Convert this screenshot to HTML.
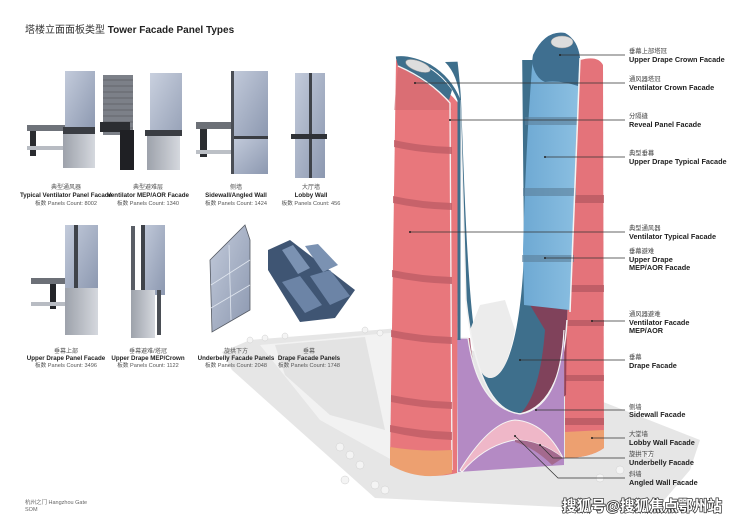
<!DOCTYPE html>
<html><head><meta charset="utf-8"><style>
html,body{margin:0;padding:0;background:#fff;}
svg{display:block;}
text{font-family:"Liberation Sans","Noto Sans CJK SC",sans-serif;}
.cn{font-size:6px;fill:#555;}
.en{font-size:6.2px;font-weight:bold;fill:#222;}
.ct{font-size:5.6px;fill:#555;}
.lc{font-size:6.3px;fill:#444;}
.le{font-size:7.3px;font-weight:bold;fill:#222;}
.ld{stroke:#333;stroke-width:0.7;fill:none;}
</style></head><body>
<svg width="740" height="523" viewBox="0 0 740 523" xmlns="http://www.w3.org/2000/svg">
<defs>
<linearGradient id="gl" x1="0" y1="0" x2="1" y2="1"><stop offset="0" stop-color="#c3cbdb"/><stop offset="1" stop-color="#8c98b0"/></linearGradient>
<linearGradient id="mt" x1="0" y1="0" x2="1" y2="0"><stop offset="0" stop-color="#9da2ab"/><stop offset="1" stop-color="#d5d8de"/></linearGradient>
<linearGradient id="bl" x1="0" y1="0" x2="1" y2="0"><stop offset="0" stop-color="#6ea9d3"/><stop offset="1" stop-color="#8cc0e2"/></linearGradient>
</defs>

<text x="25" y="33" style="font-size:10px;fill:#333">塔楼立面面板类型 <tspan style="font-weight:bold;fill:#222">Tower Facade Panel Types</tspan></text>

<!-- Row 1 panels -->
<g>
<rect x="27" y="125" width="40" height="6" fill="#6f737a"/><rect x="30" y="131" width="6" height="25" fill="#2a2c30"/><rect x="27" y="146" width="40" height="4" fill="#b8bcc3"/>
<rect x="65" y="71" width="30" height="60" fill="url(#gl)"/>
<rect x="63" y="127" width="32" height="7" fill="#3a3d43"/>
<rect x="63" y="134" width="32" height="34" fill="url(#mt)"/>
<rect x="103" y="75" width="30" height="60" fill="#7c8088"/>
<g stroke="#4a4d53" stroke-width="0.6"><line x1="103" y1="80" x2="133" y2="80"/><line x1="103" y1="86" x2="133" y2="86"/><line x1="103" y1="92" x2="133" y2="92"/><line x1="103" y1="98" x2="133" y2="98"/><line x1="103" y1="104" x2="133" y2="104"/><line x1="103" y1="110" x2="133" y2="110"/><line x1="103" y1="116" x2="133" y2="116"/><line x1="103" y1="122" x2="133" y2="122"/><line x1="103" y1="128" x2="133" y2="128"/></g>
<rect x="100" y="122" width="30" height="10" fill="#2b2d31"/><rect x="120" y="130" width="14" height="40" fill="#1f2024"/>
<rect x="150" y="73" width="32" height="60" fill="url(#gl)" opacity="0.9"/>
<rect x="145" y="130" width="37" height="6" fill="#3a3d43"/>
<rect x="147" y="136" width="33" height="34" fill="url(#mt)"/>
<rect x="196" y="122" width="38" height="7" fill="#6c7077"/><rect x="200" y="129" width="7" height="28" fill="#2b2d31"/><rect x="196" y="150" width="38" height="4" fill="#bcc0c6"/>
<rect x="231" y="71" width="37" height="67" fill="url(#gl)"/><rect x="231" y="136" width="37" height="3" fill="#3a3d43"/>
<rect x="231" y="139" width="37" height="35" fill="url(#gl)"/><rect x="231" y="71" width="3" height="103" fill="#4a4e55"/>
<rect x="295" y="73" width="30" height="105" fill="url(#gl)"/><rect x="309" y="73" width="3" height="105" fill="#3f434a"/>
<rect x="291" y="134" width="36" height="5" fill="#2f3237"/>
</g>
<g text-anchor="middle">
<text class="cn" x="66" y="189">典型通风器</text><text class="en" x="66" y="197">Typical Ventilator Panel Facade</text><text class="ct" x="66" y="205">板数 Panels Count: 8002</text>
<text class="cn" x="148" y="189">典型避难层</text><text class="en" x="148" y="197">Ventilator MEP/AOR Facade</text><text class="ct" x="148" y="205">板数 Panels Count: 1340</text>
<text class="cn" x="236" y="189">侧墙</text><text class="en" x="236" y="197">Sidewall/Angled Wall</text><text class="ct" x="236" y="205">板数 Panels Count: 1424</text>
<text class="cn" x="311" y="189">大厅墙</text><text class="en" x="311" y="197">Lobby Wall</text><text class="ct" x="311" y="205">板数 Panels Count: 456</text>
</g>

<!-- Row 2 panels -->
<g>
<rect x="31" y="278" width="35" height="6" fill="#6c7077"/><rect x="50" y="284" width="6" height="25" fill="#232529"/><rect x="31" y="302" width="35" height="4" fill="#b8bcc3"/>
<rect x="65" y="225" width="33" height="65" fill="url(#gl)"/><rect x="74" y="225" width="4" height="110" fill="#3f434a"/>
<rect x="65" y="288" width="33" height="47" fill="url(#mt)"/>
<rect x="131" y="226" width="4" height="70" fill="#5a5e66"/><rect x="141" y="225" width="24" height="70" fill="url(#gl)"/><rect x="141" y="225" width="4" height="70" fill="#3f434a"/>
<rect x="131" y="290" width="24" height="48" fill="url(#mt)"/><rect x="157" y="290" width="4" height="45" fill="#4a4e55"/>
<polygon points="210,260 245,225 250,240 250,310 212,332" fill="url(#gl)" stroke="#555a63" stroke-width="0.8"/>
<g stroke="#e0e6ef" stroke-width="0.8"><line x1="211" y1="285" x2="250" y2="260"/><line x1="211" y1="308" x2="250" y2="285"/><line x1="229" y1="245" x2="231" y2="320"/></g>
<polygon points="268,250 290,240 355,290 335,318 300,322 268,270" fill="#3f5573"/>
<polygon points="282,250 293,245 310,268 298,274" fill="#7b92b2"/><polygon points="305,246 318,244 338,265 323,272" fill="#7b92b2"/>
<polygon points="282,282 300,276 322,305 305,313" fill="#6c84a6"/><polygon points="310,276 330,270 350,296 330,305" fill="#6c84a6"/>
</g>
<g text-anchor="middle">
<text class="cn" x="66" y="353">垂幕上部</text><text class="en" x="66" y="360">Upper Drape Panel Facade</text><text class="ct" x="66" y="367">板数 Panels Count: 3496</text>
<text class="cn" x="148" y="353">垂幕避难/塔冠</text><text class="en" x="148" y="360">Upper Drape MEP/Crown</text><text class="ct" x="148" y="367">板数 Panels Count: 1122</text>
</g>

<!-- site platform -->
<polygon points="222,352 250,340 400,328 420,330 700,440 690,470 660,505 580,508 375,498 232,370" fill="#e6e6e6"/>
<polygon points="260,345 400,332 410,470 320,420" fill="#f2f2f2"/>
<polygon points="275,345 365,337 385,430 330,415 285,375" fill="#d9d9d9" opacity="0.6"/>
<g fill="#f4f4f4" stroke="#cfcfcf" stroke-width="0.5">
<circle cx="340" cy="447" r="4"/><circle cx="350" cy="455" r="4"/><circle cx="360" cy="465" r="4"/><circle cx="345" cy="480" r="4"/><circle cx="375" cy="485" r="4"/><circle cx="385" cy="490" r="4"/><circle cx="620" cy="470" r="4"/><circle cx="650" cy="455" r="4"/><circle cx="600" cy="478" r="4"/><circle cx="250" cy="340" r="3"/><circle cx="265" cy="338" r="3"/><circle cx="285" cy="336" r="3"/><circle cx="365" cy="330" r="3"/><circle cx="380" cy="333" r="3"/>
</g>
<g text-anchor="middle">
<text class="cn" x="236" y="353">旋拱下方</text><text class="en" x="236" y="360">Underbelly Facade Panels</text><text class="ct" x="236" y="367">板数 Panels Count: 2048</text>
<text class="cn" x="309" y="353">垂幕</text><text class="en" x="309" y="360">Drape Facade Panels</text><text class="ct" x="309" y="367">板数 Panels Count: 1748</text>
</g>

<!-- right tower red back -->
<path d="M580,60 Q598,55 603,65 L604,448 Q590,458 565,458 L565,80 Z" fill="#e4737a"/>
<g fill="#b85a63" opacity="0.8"><rect x="575" y="195" width="29" height="8"/><rect x="568" y="285" width="36" height="7"/><rect x="566" y="320" width="38" height="6"/><rect x="565" y="375" width="39" height="6"/><rect x="565" y="418" width="39" height="7"/></g>
<path d="M565,432 L604,430 L604,448 Q590,458 565,458 Z" fill="#eda070"/>

<!-- dark blue U band -->
<path d="M445,62 Q458,75 460,100 L466,300 Q478,410 520,414 Q562,405 567,320 L575,60 L522,60 Z" fill="#3e6f8c"/>
<path d="M530,305 L567,310 L566,395 Q550,410 520,414 Q540,395 545,330 Z" fill="#8c3b52" opacity="0.85"/>
<path d="M458,338 L470,338 Q475,390 490,405 L460,420 Z" fill="#9b3e5a" opacity="0.8"/>
<!-- white hole -->
<path d="M461,100 C466,230 470,378 490,378 C510,378 522,320 524,250 L522,40 L455,40 Q460,80 461,100 Z" fill="#fff"/>
<path d="M470,330 C475,360 480,378 490,378 C503,378 510,355 515,330 L505,300 L480,305 Z" fill="#ececec"/>
<!-- blue tower -->
<path d="M533,55 Q545,30 565,33 Q578,40 580,58 L576,140 L570,310 L524,305 L523,250 Q526,140 533,55 Z" fill="url(#bl)"/>
<path d="M533,55 Q545,30 565,33 Q578,40 580,58 L578,86 Q560,80 545,82 Q535,78 532,62 Z" fill="#3f6f90"/>
<ellipse cx="562" cy="42" rx="11" ry="6" fill="#ddd" stroke="#999" stroke-width="0.5"/>
<g fill="#5b7f9a" opacity="0.6"><rect x="525" y="117" width="52" height="8"/><rect x="523" y="188" width="53" height="8"/><rect x="522" y="255" width="52" height="7"/></g>
<path d="M580,58 L570,312" stroke="#f4f4f4" stroke-width="1.5" fill="none"/>
<path d="M460,100 L466,300 Q478,410 520,414 Q562,405 567,320" stroke="#f2f2f2" stroke-width="1.5" fill="none"/>

<!-- purple lobby and pink arch -->
<path d="M457,338 L468,338 Q478,408 520,414 Q560,408 564,330 L564,465 L458,472 Z" fill="#b48ac4"/>
<path d="M457,338 L468,338 Q478,408 520,414 Q560,408 564,330" stroke="#f2f2f2" stroke-width="1.2" fill="none"/>
<path d="M460,470 Q490,422 515,420 Q545,422 563,458 Q540,440 515,440 Q485,445 462,472 Z" fill="#efb7c8" stroke="#f5f5f5" stroke-width="1"/>
<path d="M515,440 Q540,440 563,458 L552,465 Q535,448 515,442 Z" fill="#a46a8e"/>

<!-- left tower -->
<path d="M396,60 L390,462 Q420,482 457,473 L458,103 Q440,80 396,60 Z" fill="#e8777c"/>
<path d="M396,58 Q410,56 430,66 Q450,78 459,100 L459,340" stroke="#3e6f8c" stroke-width="3" fill="none"/>
<path d="M396,58 Q430,60 452,90 L449,100 Q425,80 398,66 Z" fill="#3e6f8c"/>
<ellipse cx="418" cy="66" rx="13" ry="5" fill="#ddd" stroke="#999" stroke-width="0.5" transform="rotate(20 418 66)"/>
<path d="M398,67 Q430,82 450,104 L452,110 L394,110 Z" fill="#c9636b" opacity="0.45"/>
<path d="M398,66 Q430,80 450,103 L452,470" stroke="#f4f4f4" stroke-width="1.3" fill="none"/>
<g fill="#c25f68" opacity="0.85">
<path d="M394,140 Q420,146 452,147 L452,154 Q420,153 394,147 Z"/>
<path d="M393,196 Q420,202 452,203 L452,210 Q420,209 393,203 Z"/>
<path d="M392,270 Q420,276 452,277 L452,284 Q420,283 392,277 Z"/>
<path d="M391,330 Q420,336 452,337 L452,344 Q420,343 391,337 Z"/>
<path d="M391,395 Q420,401 452,402 L452,409 Q420,408 391,402 Z"/>
<path d="M390,425 Q420,431 452,432 L452,440 Q420,439 390,432 Z"/>
</g>
<path d="M390,447 Q420,452 452,450 L452,473 Q420,482 390,465 Z" fill="#eda070"/>

<!-- leaders -->
<g class="ld">
<line x1="560" y1="55" x2="625" y2="55"/>
<line x1="415" y1="83" x2="625" y2="83"/>
<line x1="450" y1="120" x2="625" y2="120"/>
<line x1="545" y1="157" x2="625" y2="157"/>
<line x1="410" y1="232" x2="625" y2="232"/>
<line x1="545" y1="258" x2="625" y2="258"/>
<line x1="592" y1="321" x2="625" y2="321"/>
<line x1="520" y1="360" x2="625" y2="360"/>
<line x1="536" y1="410" x2="625" y2="410"/>
<line x1="592" y1="438" x2="625" y2="438"/>
<polyline points="540,445 553,458 625,458"/>
<polyline points="515,436 558,478 625,478"/>
</g>
<g fill="#222"><circle cx="560" cy="55" r="1"/><circle cx="415" cy="83" r="1"/><circle cx="450" cy="120" r="1"/><circle cx="545" cy="157" r="1"/><circle cx="410" cy="232" r="1"/><circle cx="545" cy="258" r="1"/><circle cx="592" cy="321" r="1"/><circle cx="520" cy="360" r="1"/><circle cx="536" cy="410" r="1"/><circle cx="592" cy="438" r="1"/><circle cx="540" cy="445" r="1"/><circle cx="515" cy="436" r="1"/></g>

<g>
<text class="lc" x="629" y="53">垂幕上部塔冠</text><text class="le" x="629" y="62">Upper Drape Crown Facade</text>
<text class="lc" x="629" y="81">通风器塔冠</text><text class="le" x="629" y="90">Ventilator Crown Facade</text>
<text class="lc" x="629" y="118">分隔缝</text><text class="le" x="629" y="127">Reveal Panel Facade</text>
<text class="lc" x="629" y="155">典型垂幕</text><text class="le" x="629" y="164">Upper Drape Typical Facade</text>
<text class="lc" x="629" y="230">典型通风器</text><text class="le" x="629" y="239">Ventilator Typical Facade</text>
<text class="lc" x="629" y="253">垂幕避难</text><text class="le" x="629" y="262">Upper Drape</text><text class="le" x="629" y="270">MEP/AOR Facade</text>
<text class="lc" x="629" y="316">通风器避难</text><text class="le" x="629" y="325">Ventilator Facade</text><text class="le" x="629" y="333">MEP/AOR</text>
<text class="lc" x="629" y="359">垂幕</text><text class="le" x="629" y="368">Drape Facade</text>
<text class="lc" x="629" y="409">侧墙</text><text class="le" x="629" y="417">Sidewall Facade</text>
<text class="lc" x="629" y="436">大堂墙</text><text class="le" x="629" y="445">Lobby Wall Facade</text>
<text class="lc" x="629" y="456">旋拱下方</text><text class="le" x="629" y="465">Underbelly Facade</text>
<text class="lc" x="629" y="476">斜墙</text><text class="le" x="629" y="485">Angled Wall Facade</text>
</g>

<text x="25" y="504" style="font-size:5.5px;fill:#666">杭州之门 Hangzhou Gate</text>
<text x="25" y="511" style="font-size:5.5px;fill:#666">SOM</text>

<text x="722" y="511" text-anchor="end" textLength="160" lengthAdjust="spacingAndGlyphs" style="font-size:15px;font-weight:bold;fill:#fff;stroke:#333;stroke-width:1.5;paint-order:stroke;font-family:'Liberation Sans','Noto Sans CJK SC',sans-serif">搜狐号@搜狐焦点鄂州站</text>
</svg>
</body></html>
